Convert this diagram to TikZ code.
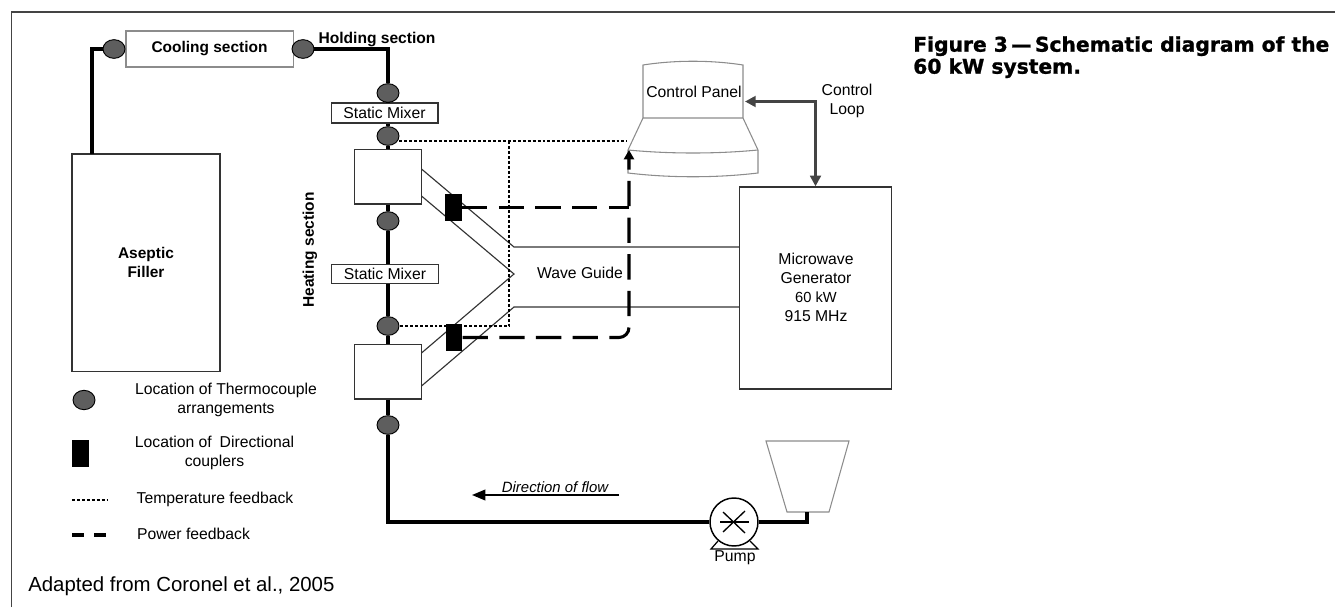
\documentclass[tikz,border=0pt]{standalone}
\usepackage{fontspec}
\setmainfont{Liberation Sans}
\newfontfamily\capfont{DejaVu Sans}[BoldFeatures={FakeBold=1.2}]
\definecolor{LineDark}{HTML}{333333}
\definecolor{TcGray}{HTML}{5E5E5E}
\definecolor{LoopGray}{HTML}{444444}
\definecolor{EdgeGray}{HTML}{8C8C8C}
\usetikzlibrary{
  positioning, arrows.meta, calc, shapes.geometric
}

\begin{document}
\begin{tikzpicture}[
  x=0.75pt, y=-0.75pt,
  txt/.style={inner sep=0pt, align=center, font=\fontsize{11.8}{14.2}\selectfont},
  boldtxt/.style={inner sep=0pt, align=center, font=\fontsize{11.6}{13.6}\selectfont\bfseries},
  tcouple/.style={ellipse, draw=black, line width=0.7pt, fill=TcGray, inner sep=0pt, minimum width=16.5pt, minimum height=14pt},
  coupler/.style={rectangle, fill=black, inner sep=0pt, minimum width=12.5pt, minimum height=20.5pt},
  unit/.style={rectangle, draw=LineDark, line width=1pt, fill=white, inner sep=0pt},
  pipe/.style={line width=3pt, black},
  guide/.style={line width=0.85pt, LineDark},
  tempfb/.style={line width=1.7pt, dash pattern=on 2.2pt off 1.5pt},
  powerfb/.style={line width=2.3pt, dash pattern=on 19pt off 8.5pt},
  panel/.style={line width=0.8pt, EdgeGray},
]
  \useasboundingbox (0,0) rectangle (1335,607);

  % Frame
  \draw[line width=1.1pt, LoopGray] (11.5,607) -- (11.5,12) -- (1335,12);

  % Process units
  \node[unit, draw=EdgeGray, minimum width=125.5pt, minimum height=27pt, boldtxt] (cool) at (209.5,49) {Cooling section};
  \node[unit, minimum width=111pt, minimum height=163pt, boldtxt] (filler) at (146,262.5) {Aseptic\\Filler};
  \node[unit, minimum width=80pt, minimum height=15pt, txt] (mixA) at (384.5,113) {Static Mixer};
  \node[unit, minimum width=80pt, minimum height=14pt, txt] (mixB) at (385,274) {Static Mixer};
  \node[unit, minimum width=50pt, minimum height=41pt] (heatA) at (388,176.5) {};
  \node[unit, minimum width=50pt, minimum height=41pt] (heatB) at (388,371.5) {};
  \node[unit, minimum width=114pt, minimum height=151.5pt] (mwg) at (815.5,288) {};

  % Thermocouples
  \node[tcouple] (tcA) at (114,49) {};
  \node[tcouple] (tcB) at (303,49) {};
  \node[tcouple] (tcC) at (388,93) {};
  \node[tcouple] (tcD) at (388,136) {};
  \node[tcouple] (tcE) at (388,221) {};
  \node[tcouple] (tcF) at (388,326) {};
  \node[tcouple] (tcG) at (388,425) {};

  % Pump and feed hopper
  \node[circle, draw=black, line width=1.1pt, fill=white, inner sep=0pt, minimum size=36pt] (pump) at (734,522) {};
  \node[txt] (pumplabel) at (735,557.5) {Pump};
  \draw[line width=1pt] ($(pump)+(-14,0)$) -- ($(pump)+(15,0)$);
  \draw[line width=1pt] ($(pump)+(-11,10)$) -- ($(pump)+(11,-11)$);
  \draw[line width=1pt] ($(pump)+(-11,-10)$) -- ($(pump)+(11,11)$);
  \draw[line width=0.9pt] ($(pump)+(-16,19)$) -- ($(pump)+(-23,27)$) -- ($(pump)+(24,27)$) -- ($(pump)+(16,19)$);
  \draw[panel] (766,441) -- (849,441) -- (829,512) -- (787,512) -- cycle;
  \coordinate (hopperout) at (807,512);

  % Product line
  \coordinate (fillerin) at (92,154);
  \draw[pipe] (tcA) -| (fillerin);
  \draw[pipe] (tcB) -| (tcC);
  \draw[pipe] (tcC) -- (tcC |- mixA.north);
  \draw[pipe, line width=2.5pt] (tcC |- mixA.south) -- (tcD);
  \draw[pipe, line width=2.5pt] (tcD) -- (heatA);
  \draw[pipe] (heatA) -- (tcE);
  \draw[pipe] (tcE) -- (tcE |- mixB.north);
  \draw[pipe] (tcE |- mixB.south) -- (tcF);
  \draw[pipe] (tcF) -- (heatB);
  \draw[pipe] (heatB) -- (tcG);
  \draw[pipe, line width=3.6pt] (tcG) |- (pump);
  \draw[pipe, line width=2.5pt] (pump) -| (hopperout);

  % Wave guide
  \coordinate (wgA) at (421.5,169);
  \coordinate (wgB) at (421.5,196);
  \coordinate (wgC) at (421.5,353);
  \coordinate (wgD) at (421.5,386);
  \coordinate (wgbendA) at (514,247);
  \coordinate (wgtip) at (514,274);
  \coordinate (wgbendB) at (514,307);
  \draw[guide] (wgA) -- (wgbendA) -- (wgbendA -| mwg.west);
  \draw[guide] (wgB) -- (wgtip) -- (wgC);
  \draw[guide] (wgD) -- (wgbendB) -- (wgbendB -| mwg.west);
  \node[txt] (wglabel) at (580,273) {Wave Guide};

  % Directional couplers
  \node[coupler] (cpA) at (453.5,207.5) {};
  \node[coupler] (cpB) at (454,337.5) {};

  % Control panel
  \draw[panel] (643,118) -- (643,65) .. controls (675,60) and (711,60) .. (743,65) -- (743,118) -- cycle;
  \draw[panel] (643,118) -- (628,150) -- (628,173) .. controls (670,178) and (716,178) .. (758,173) -- (758,150) -- (743,118);
  \draw[panel] (628,150) .. controls (670,154) and (716,154) .. (758,150);
  \node[txt] (cpanel) at (694,92) {Control Panel};

  % Control loop
  \coordinate (panelin) at (745,101.5);
  \node[txt] (looplabel) at (847,101) {Control\\Loop};
  \draw[line width=2pt, LoopGray, {Triangle[length=8pt,width=8pt]}-{Triangle[length=8pt,width=8pt]}] (panelin) -| (mwg.north);

  % Temperature and power feedback
  \coordinate (tfbend) at (627,141);
  \coordinate (tfbjoin) at (509,141);
  \coordinate (pfbend) at (629,150);
  \coordinate (pfbjoin) at (629,207.5);
  \draw[tempfb] (tcD.east |- tfbend) -- (tfbend);
  \draw[tempfb] (tfbjoin) |- (tcF.east);
  \draw[powerfb, rounded corners=7.5pt, -{Triangle[length=7pt,width=7.5pt]}] (cpB) -| (pfbend);
  \draw[powerfb] (cpA) -- (pfbjoin);

  % Other labels
  \node[boldtxt, font=\fontsize{11.7}{14}\selectfont\bfseries] (holding) at (377,39) {Holding section};
  \node[boldtxt, rotate=90] (heating) at (310,250) {Heating section};
  \node[txt] (mwglabel) at (816,287) {Microwave\\Generator\\{\fontsize{11}{14.2}\selectfont 60 kW}\hspace*{7.5pt}\\915 MHz};
  \node[inner sep=0pt, font=\fontsize{11.2}{13.5}\selectfont\itshape] (flowlabel) at (555,487) {Direction of flow};
  \coordinate (flowA) at (619,495);
  \coordinate (flowB) at (472,495);
  \draw[line width=1.3pt, -{Triangle[length=10pt,width=8pt]}] (flowA) -- (flowB);

  % Legend
  \node[tcouple, minimum height=14.5pt] (legtc) at (84,400) {};
  \node[txt] (legtclabel) at (226,400) {Location of Thermocouple\\arrangements};
  \node[coupler] (legcp) at (80.5,453.5) {};
  \node[txt] (legcplabel) at (214.5,452.5) {Location of\enspace Directional\\couplers};
  \coordinate (legtA) at (72,500);
  \coordinate (legtB) at (107,500);
  \draw[tempfb, line width=1.3pt] (legtA) -- (legtB);
  \node[txt] (legtlabel) at (215,499) {Temperature feedback};
  \coordinate (legpA) at (72,535);
  \coordinate (legpB) at (107,535);
  \draw[line width=2.6pt, dash pattern=on 9pt off 7.5pt] (legpA) -- (legpB);
  \node[txt] (legplabel) at (193.5,534) {Power feedback};

  % Source and caption
  \node[inner sep=0pt, anchor=west, font=\fontsize{15.3}{18}\selectfont] (source) at (28,586) {Adapted from Coronel et al., 2005};
  \node[inner sep=0pt, anchor=north west, align=left, font=\capfont\fontsize{15.2}{16.5}\selectfont\bfseries] (caption) at (913,36) {Figure 3\,—\,Schematic diagram of the\\60 kW system.};
\end{tikzpicture}
\end{document}
